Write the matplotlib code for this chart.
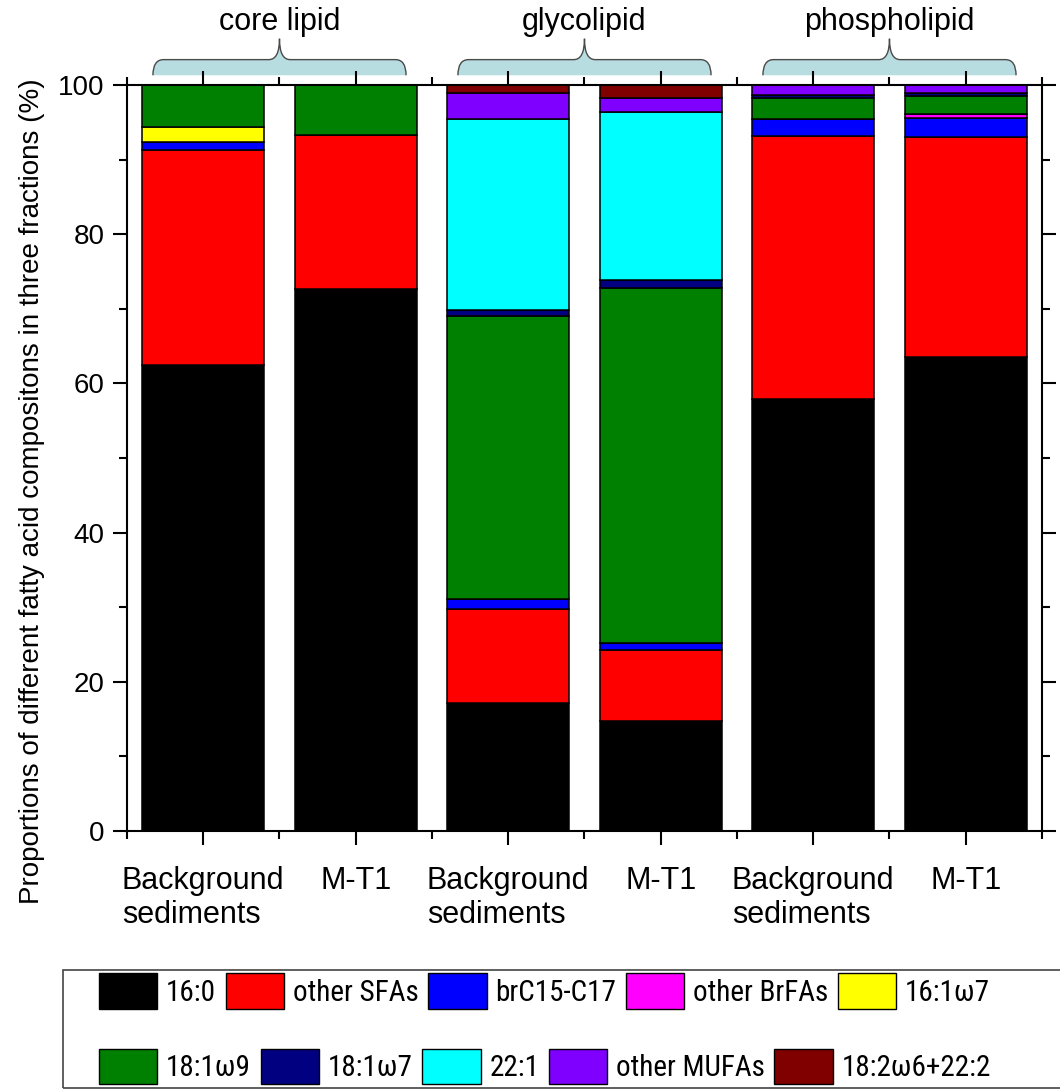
import matplotlib
matplotlib.use("Agg")
import matplotlib.pyplot as plt
import numpy as np
from matplotlib.path import Path
from matplotlib.patches import PathPatch, Patch, Rectangle
from matplotlib.ticker import MultipleLocator, FixedLocator

plt.rcParams['font.family'] = ['Liberation Sans', 'DejaVu Sans']

# samples (x axis) and fractions
samples = ["Background\nsediments", "M-T1", "Background\nsediments", "M-T1",
           "Background\nsediments", "M-T1"]
fractions = ["core lipid", "glycolipid", "phospholipid"]

# fatty acid groups, stacked bottom -> top
fa_names = ["16:0", "other SFAs", "brC15-C17", "other BrFAs", "16:1ω7",
            "18:1ω9", "18:1ω7", "22:1", "other MUFAs", "18:2ω6+22:2"]
fa_colors = ["#000000", "#ff0000", "#0000ff", "#ff00ff", "#ffff00",
             "#008000", "#000080", "#00ffff", "#8000ff", "#800000"]

fa_160 = [62.5, 72.6, 17.1, 14.7, 57.9, 63.6]
other_sfa = [28.8, 20.7, 12.7, 9.5, 35.2, 29.4]
brc15_c17 = [1.1, 0.0, 1.3, 1.0, 2.3, 2.6]
other_brfa = [0.0, 0.0, 0.0, 0.0, 0.0, 0.5]
fa_161w7 = [2.0, 0.0, 0.0, 0.0, 0.0, 0.0]
fa_181w9 = [5.6, 6.7, 38.0, 47.6, 2.8, 2.4]
fa_181w7 = [0.0, 0.0, 0.8, 1.0, 0.4, 0.4]
fa_221 = [0.0, 0.0, 25.5, 22.6, 0.0, 0.0]
other_mufa = [0.0, 0.0, 3.5, 1.9, 1.4, 1.1]
fa_182 = [0.0, 0.0, 1.1, 1.7, 0.0, 0.0]

series = [fa_160, other_sfa, brc15_c17, other_brfa, fa_161w7,
          fa_181w9, fa_181w7, fa_221, other_mufa, fa_182]

fig = plt.figure(figsize=(10.6, 10.91), dpi=100)
ax = fig.add_axes([0.1198, 0.2383, 0.8632, 0.6838])

x = np.arange(len(samples))
bottom = np.zeros(len(samples))
for vals, name, col in zip(series, fa_names, fa_colors):
    vals = np.array(vals)
    ax.bar(x, vals, width=0.8, bottom=bottom, color=col, edgecolor="black",
           linewidth=1.1, label=name)
    bottom += vals

ax.set_xlim(-0.5, len(samples) - 0.5)
ax.set_ylim(0, 100)
ax.set_xticks(x)
ax.set_xticklabels(samples, fontsize=22, multialignment="left", va="top")
ax.xaxis.set_minor_locator(FixedLocator(np.arange(-0.5, len(samples), 1.0)))
ax.yaxis.set_major_locator(MultipleLocator(20))
ax.yaxis.set_minor_locator(MultipleLocator(10))
ax.tick_params(axis="y", labelsize=20)
ax.tick_params(which="both", direction="out", top=True, right=True, width=1.5)
ax.tick_params(which="major", length=10)
ax.tick_params(which="minor", length=6)
ax.tick_params(axis="x", which="major", pad=15)
ax.tick_params(axis="y", which="major", pad=6)
for s in ax.spines.values():
    s.set_linewidth(1.5)

ax.set_ylabel("Proportions of different fatty acid compositons in three fractions (%)",
              fontsize=20)
ax.yaxis.set_label_coords(-0.09, 0.455)

# curly braces + fraction names above each pair of bars
def brace(ax, x0, x1, yb, yf, yt, dx=0.07):
    xc = (x0 + x1) / 2
    verts = [(x0, yb), (x0, yf), (x0 + dx, yf),
             (xc - dx, yf),
             (xc, yf), (xc, yt),
             (xc, yf), (xc + dx, yf),
             (x1 - dx, yf),
             (x1, yf), (x1, yb)]
    codes = [Path.MOVETO, Path.CURVE3, Path.CURVE3,
             Path.LINETO,
             Path.CURVE3, Path.CURVE3,
             Path.CURVE3, Path.CURVE3,
             Path.LINETO,
             Path.CURVE3, Path.CURVE3]
    fill = Path(verts + [(x0, yb)], codes + [Path.CLOSEPOLY])
    ax.add_patch(PathPatch(fill, facecolor="#b7dde1", edgecolor="none",
                           clip_on=False))
    ax.add_patch(PathPatch(Path(verts, codes), facecolor="none",
                           edgecolor="#4a4a4a", linewidth=1.0, clip_on=False))

for i, name in enumerate(fractions):
    g0 = 2 * i
    brace(ax, g0 - 0.33, g0 + 1.33, 101.3, 103.4, 106.2)
    ax.text(g0 + 0.5, 106.4, name, ha="center", va="bottom", fontsize=22)

# legend laid out as two free-flowing rows inside one frame
handles = [Patch(facecolor=c, edgecolor="black", linewidth=1.0) for c in fa_colors]
leg_kw = dict(ncol=5, frameon=False, borderpad=0, borderaxespad=0,
              handlelength=2.0, handleheight=1.48, handletextpad=0.3,
              columnspacing=0.33,
              prop={"family": ["Roboto Condensed", "Liberation Sans"],
                    "stretch": "condensed", "size": 21})
fig.legend(handles[:5], fa_names[:5], loc="center left",
           bbox_to_anchor=(0.0934, 0.0917), **leg_kw)
fig.legend(handles[5:], fa_names[5:], loc="center left",
           bbox_to_anchor=(0.0934, 0.0225), **leg_kw)
fig.add_artist(Rectangle((0.0594, 0.0027), 1.0, 0.1082, transform=fig.transFigure,
                         facecolor="none", edgecolor="#444444", linewidth=1.2,
                         clip_on=False))

fig.savefig("out.png", dpi=100)
